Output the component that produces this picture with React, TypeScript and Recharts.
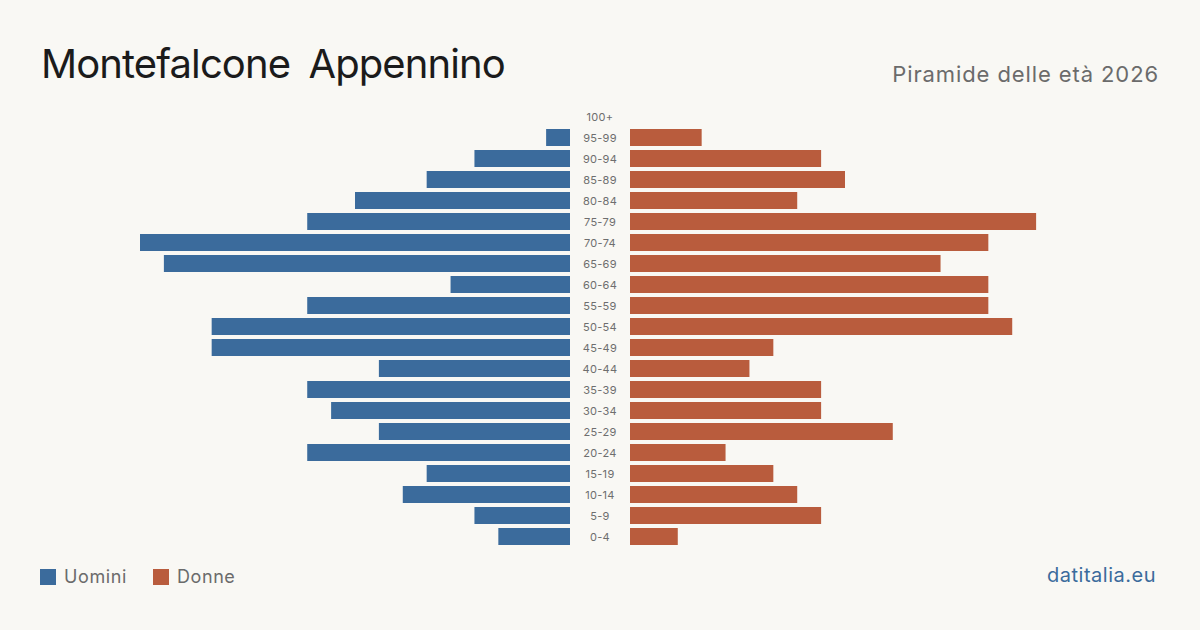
import { BarChart, Bar, XAxis, YAxis } from "recharts"

const AGES = ["100+", "95-99", "90-94", "85-89", "80-84", "75-79", "70-74", "65-69", "60-64", "55-59", "50-54", "45-49", "40-44", "35-39", "30-34", "25-29", "20-24", "15-19", "10-14", "5-9", "0-4"]
const UOMINI = [0, 1, 4, 6, 9, 11, 18, 17, 5, 11, 15, 15, 8, 11, 10, 8, 11, 6, 7, 4, 3]
const DONNE = [0, 3, 8, 9, 7, 17, 15, 13, 15, 15, 16, 6, 5, 8, 8, 11, 4, 6, 7, 8, 2]

const BLUE = "#3b6b9c"
const RED = "#b95c3d"
const BG = "#f9f8f4"
const FONT = "Inter, 'Noto Sans', sans-serif"
const MAX = 18

const data = AGES.map((age, i) => ({ age, m: UOMINI[i], f: DONNE[i] }))

const AgeTick = ({ x, y, payload }: any) => (
  <text x={x - 22} y={y} dy={4} textAnchor="middle" fontSize={11} fill="#6e6e6e" fontFamily={FONT} letterSpacing={0.3}>
    {payload.value}
  </text>
)

export default function App() {
  return (
    <div style={{ position: "absolute", left: 0, top: 0, width: 1200, height: 630, background: BG, fontFamily: FONT, overflow: "hidden" }}>
      <div style={{ position: "absolute", left: 41, top: 39, fontSize: 40, color: "#1b1b1b", letterSpacing: -0.9, wordSpacing: 8 }}>
        Montefalcone Appennino
      </div>
      <div style={{ position: "absolute", right: 41, top: 61, fontSize: 22, color: "#6b6b6b", letterSpacing: 0.9 }}>
        Piramide delle età 2026
      </div>

      <div style={{ position: "absolute", left: 140, top: 106 }}>
        <BarChart layout="vertical" width={430} height={441} data={data} margin={{ top: 0, right: 0, bottom: 0, left: 0 }}>
          <XAxis type="number" domain={[0, MAX]} reversed hide />
          <YAxis type="category" dataKey="age" hide />
          <Bar dataKey="m" fill={BLUE} barSize={17} isAnimationActive={false} />
        </BarChart>
      </div>

      <div style={{ position: "absolute", left: 570, top: 106 }}>
        <BarChart layout="vertical" width={490} height={441} data={data} margin={{ top: 0, right: 0, bottom: 0, left: 0 }}>
          <XAxis type="number" domain={[0, MAX]} hide />
          <YAxis type="category" dataKey="age" width={60} axisLine={false} tickLine={false} tick={<AgeTick />} interval={0} />
          <Bar dataKey="f" fill={RED} barSize={17} isAnimationActive={false} />
        </BarChart>
      </div>

      <div style={{ position: "absolute", left: 40, top: 566, display: "flex", alignItems: "center", fontSize: 18, color: "#6b6b6b", letterSpacing: 0.6 }}>
        <span style={{ width: 16, height: 16, background: BLUE, display: "inline-block", marginRight: 8 }} />
        <span style={{ marginRight: 26 }}>Uomini</span>
        <span style={{ width: 16, height: 16, background: RED, display: "inline-block", marginRight: 8 }} />
        <span>Donne</span>
      </div>
      <div style={{ position: "absolute", right: 44, top: 563, fontSize: 20, color: BLUE, letterSpacing: 0.5 }}>
        datitalia.eu
      </div>
    </div>
  )
}
